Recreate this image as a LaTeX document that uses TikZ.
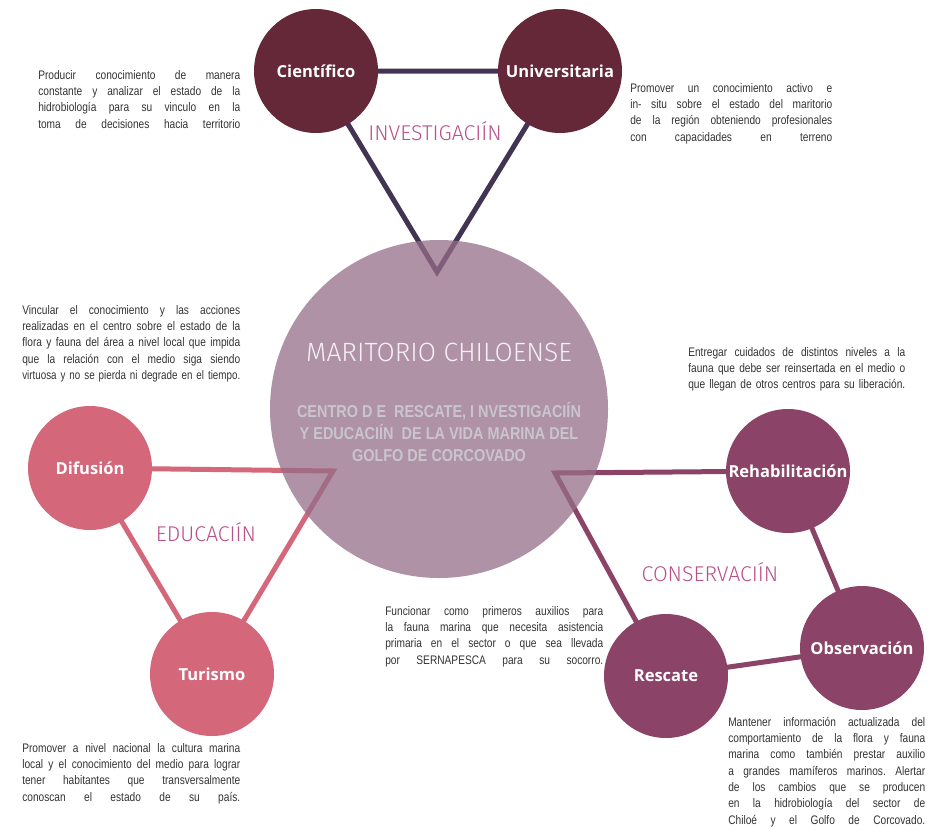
\documentclass[tikz,border=0pt]{standalone}
\usepackage{fontspec}
\usetikzlibrary{backgrounds}
\setmainfont{Liberation Sans}
\newfontfamily\notefont{Liberation Sans}[FakeStretch=0.82]
\newfontfamily\condfont{Liberation Sans}[FakeStretch=0.84]
\newfontfamily\namefont{Open Sans}
\newfontfamily\thinfont{Fira Sans Light}
\definecolor{invcolor}{HTML}{642838}
\definecolor{invline}{HTML}{433552}
\definecolor{educolor}{HTML}{D4677A}
\definecolor{concolor}{HTML}{8B4468}
\definecolor{corecolor}{HTML}{956D88}
\definecolor{themecolor}{HTML}{B8508C}
\definecolor{subcolor}{HTML}{C8C6CC}
\definecolor{notecolor}{HTML}{333333}
\frenchspacing
% one justified line of a note
\newcommand\jline[1]{\leavevmode\hbox to \notewidth{\spaceskip = 0.2em plus 1fil\relax #1}}

\begin{document}
\begin{tikzpicture}[x = 0.75pt, y = -0.75pt,
                    link/.style = {line width = 3.75pt, line join = miter},
                    area/.style = {circle,
                                   minimum size = 93pt,
                                   inner sep = 0pt,
                                   text = white,
                                   font = \namefont\bfseries\fontsize{12.4}{14}\selectfont},
                    core/.style = {circle,
                                   minimum size = 253.5pt,
                                   fill = corecolor,
                                   fill opacity = 0.75},
                    theme/.style = {themecolor,
                                    font = \thinfont\fontsize{16}{18}\selectfont},
                    note/.style = {anchor = north west,
                                   inner sep = 0pt,
                                   text width = #1,
                                   align = left,
                                   text = notecolor,
                                   execute at begin node = {\def\notewidth{#1}},
                                   font = \notefont\fontsize{9.3}{12.2}\selectfont}]

\useasboundingbox (0,0) rectangle (934,828);

% centre
\node[core] (centro) at (439,409) {};
\node[white!90!corecolor, font = \thinfont\fontsize{19.8}{22}\selectfont]
  (titulo) at (439,352) {MARITORIO CHILOENSE};
\node[subcolor, align = center, font = \condfont\bfseries\fontsize{12.9}{16.2}\selectfont]
  (lema) at (439,432)
  {CENTRO D E\ \ RESCATE, I NVESTIGACIÍN\\
   Y EDUCACIÍN\ \ DE LA VIDA MARINA DEL\\
   GOLFO DE CORCOVADO};

% investigacion
\node[area, fill = invcolor] (cien) at (316,71) {Científico};
\node[area, fill = invcolor] (univ) at (560,71) {Universitaria};
\coordinate (invtip) at (437,272);
\node[theme] (inv) at (435,131) {INVESTIGACIÍN};

% educacion
\node[area, fill = educolor] (dif) at (90,468) {Difusión};
\node[area, fill = educolor] (tur) at (212,674) {Turismo};
\coordinate (edutip) at (333,471);
\node[theme] (edu) at (206,532) {EDUCACIÍN};

% conservacion
\node[area, fill = concolor] (reh) at (788,471) {Rehabilitación};
\node[area, fill = concolor] (obs) at (862,648) {Observación};
\node[area, fill = concolor] (res) at (666,676) {Rescate};
\coordinate (contip) at (555,473);
\node[theme] (con) at (710,572) {CONSERVACIÍN};

\begin{scope}[on background layer]
  \draw[link, invline] (cien.center) -- (univ.center) -- (invtip) -- cycle;
  \draw[link, educolor] (dif.center) -- (edutip) -- (tur.center) -- cycle;
  \draw[link, concolor] (reh.center) -- (obs.center) -- (res.center) -- (contip) -- cycle;
\end{scope}

% notes
\node[note = 151.5pt] (nota cien) at (38,70)
  {\jline{Producir conocimiento de manera}\\
   \jline{constante y analizar el estado de la}\\
   \jline{hidrobiología para su vinculo en la}\\
   \jline{toma de decisiones hacia territorio}};
\node[note = 151.5pt] (nota univ) at (630,83)
  {\jline{Promover un conocimiento activo e}\\
   \jline{in- situ sobre el estado del maritorio}\\
   \jline{de la región obteniendo profesionales}\\
   \jline{con capacidades en terreno}};
\node[note = 163.5pt] (nota dif) at (22,305)
  {\jline{Vincular el conocimiento y las acciones}\\
   \jline{realizadas en el centro sobre el estado de la}\\
   \jline{flora y fauna del área a nivel local que impida}\\
   \jline{que la relación con el medio siga siendo}\\
   \resizebox{\notewidth}{\height}{virtuosa y no se pierda ni degrade en el tiempo.}};
\node[note = 162.75pt] (nota reh) at (688,347)
  {\jline{Entregar cuidados de distintos niveles a la}\\
   \jline{fauna que debe ser reinsertada en el medio o}\\
   \jline{que llegan de otros centros para su liberación.}};
\node[note = 163.5pt] (nota res) at (385,606)
  {\jline{Funcionar como primeros auxilios para}\\
   \jline{la fauna marina que necesita asistencia}\\
   \jline{primaria en el sector o que sea llevada}\\
   \jline{por SERNAPESCA para su socorro.}};
\node[note = 163.5pt] (nota tur) at (22,743)
  {\jline{Promover a nivel nacional la cultura marina}\\
   \jline{local y el conocimiento del medio para lograr}\\
   \jline{tener habitantes que transversalmente}\\
   \jline{conoscan el estado de su país.}};
\node[note = 147.75pt] (nota obs) at (728,717)
  {\jline{Mantener información actualizada del}\\
   \jline{comportamiento de la flora y fauna}\\
   \jline{marina como también prestar auxilio}\\
   \jline{a grandes mamíferos marinos. Alertar}\\
   \jline{de los cambios que se producen}\\
   \jline{en la hidrobiología del sector de}\\
   \jline{Chiloé y el Golfo de Corcovado.}};

\end{tikzpicture}
\end{document}
